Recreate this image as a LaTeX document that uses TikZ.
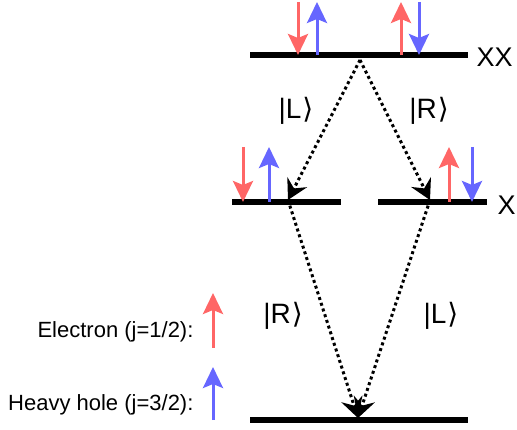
\documentclass[tikz,border=0pt]{standalone}
\usepackage{fontspec}
\setmainfont{Liberation Sans}
\newfontfamily\symfont{DejaVu Sans}
\usetikzlibrary{arrows.meta}
\definecolor{SpinRed}{HTML}{FF6666}
\definecolor{SpinBlue}{HTML}{6666FF}
\newcommand{\ketL}{|L\hspace{1pt}{\symfont\char"27E9}}
\newcommand{\ketR}{|R\hspace{1pt}{\symfont\char"27E9}}
\tikzset{
  level/.style={line width=6pt},
  spin/.style={line width=3pt,-{Stealth[length=21pt,width=20pt,inset=4pt]}},
  photon/.style={line width=3pt,dash pattern=on 3pt off 3pt,
    -{Stealth[length=20pt,width=22pt,inset=7pt]}},
  statelabel/.style={font=\fontsize{28}{30}\selectfont},
  levellabel/.style={font=\fontsize{27}{29}\selectfont,anchor=west},
  legendlabel/.style={font=\fontsize{22}{24}\selectfont,anchor=east}
}
\begin{document}
\begin{tikzpicture}[x=1pt,y=-1pt]
  \useasboundingbox (0,0) rectangle (517,430);
  % energy levels
  \draw[level] (250,55) -- (468,55);
  \draw[level] (232,202) -- (341,202);
  \draw[level] (378,202) -- (487,202);
  \draw[level] (250,420) -- (468,420);
  \node[levellabel] (xx) at (473,57) {XX};
  \node[levellabel] (x) at (494,205) {X};
  % emission paths
  \coordinate (top) at (360,60);
  \coordinate (xleft) at (288,200);
  \coordinate (xright) at (430,200);
  \coordinate (bot) at (358,418);
  \draw[photon] (top) -- (xleft);
  \draw[photon] (top) -- (xright);
  \draw[photon] (xleft) -- (bot);
  \draw[photon] (xright) -- (bot);
  \node[statelabel] (l1) at (296,111) {\ketL};
  \node[statelabel] (r1) at (429,111) {\ketR};
  \node[statelabel] (r2) at (283,316) {\ketR};
  \node[statelabel] (l2) at (441,316) {\ketL};
  % spins on XX
  \draw[spin,SpinRed] (298,2) -- (298,55);
  \draw[spin,SpinBlue] (317,55) -- (317,2);
  \draw[spin,SpinRed] (401,55) -- (401,2);
  \draw[spin,SpinBlue] (419,2) -- (419,55);
  % spins on X
  \draw[spin,SpinRed] (243,147) -- (243,202);
  \draw[spin,SpinBlue] (269,202) -- (269,147);
  \draw[spin,SpinRed] (449,202) -- (449,147);
  \draw[spin,SpinBlue] (472,147) -- (472,202);
  % legend
  \draw[spin,SpinRed] (213,348) -- (213,293);
  \draw[spin,SpinBlue] (213,420) -- (213,367);
  \node[legendlabel] (el) at (197,332) {Electron (j=1/2):};
  \node[legendlabel] (hh) at (197,405) {Heavy hole (j=3/2):};
\end{tikzpicture}
\end{document}
